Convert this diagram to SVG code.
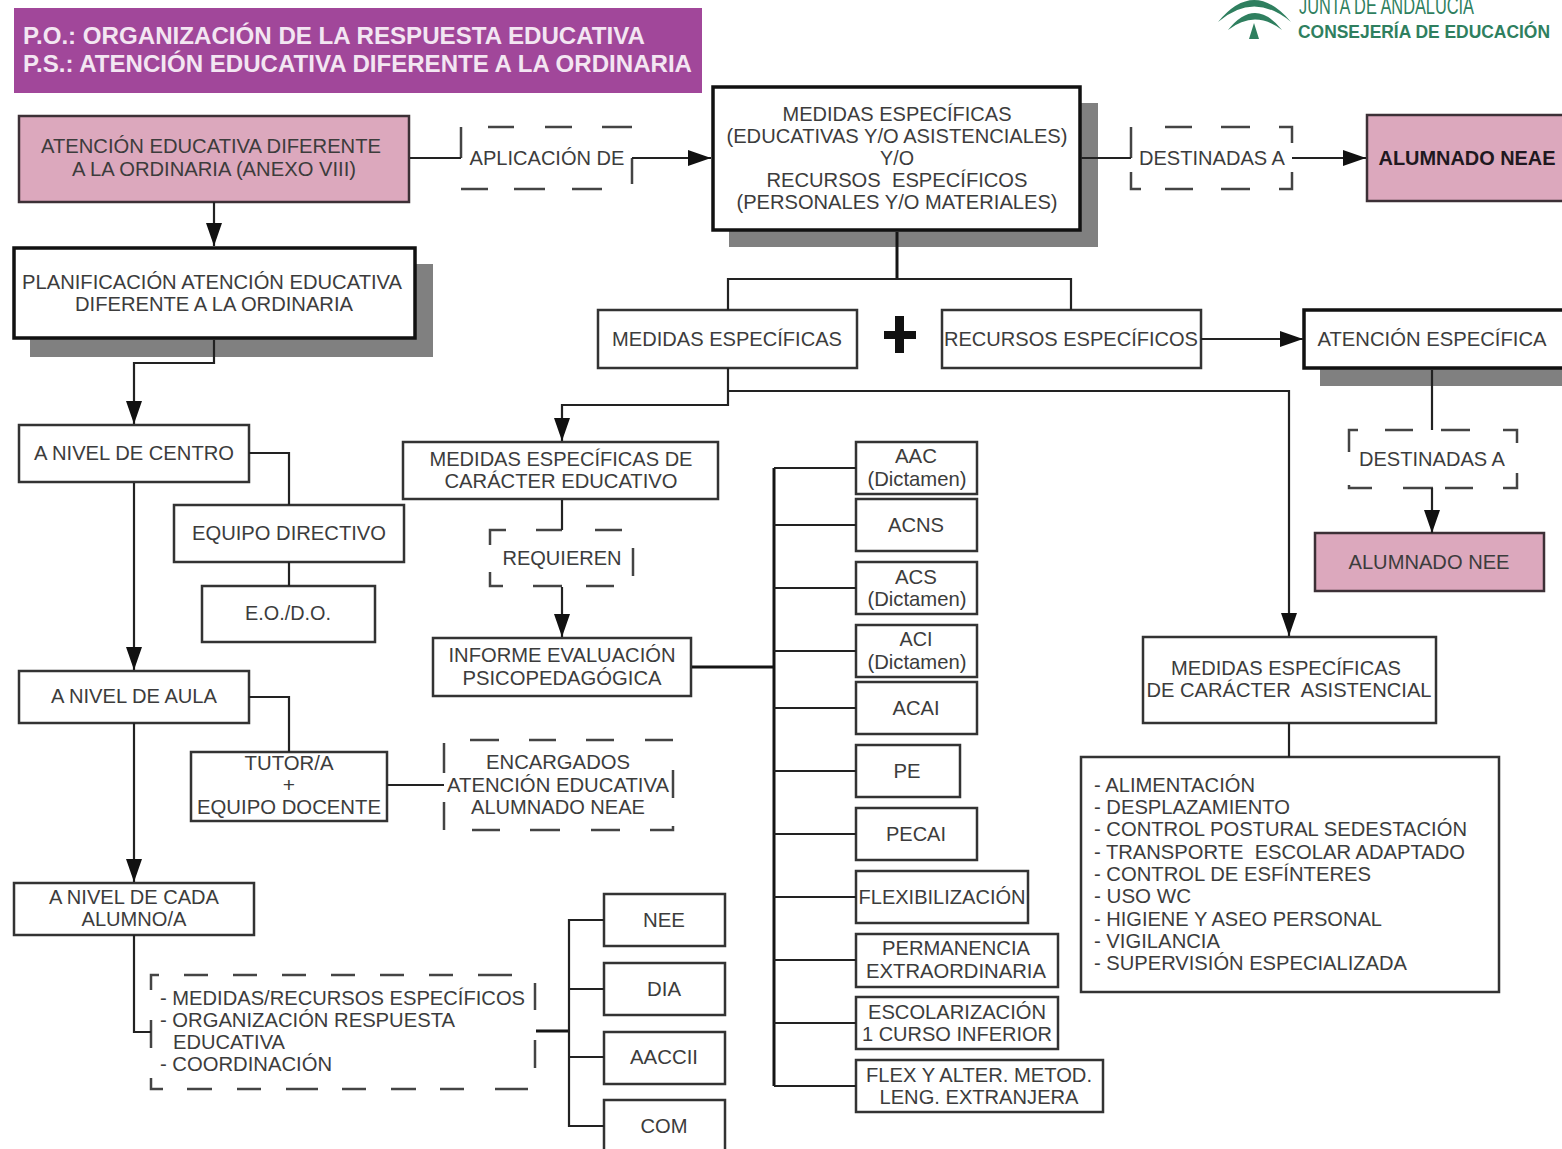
<svg xmlns="http://www.w3.org/2000/svg" width="1562" height="1149" viewBox="0 0 1562 1149">
<style>
text{font-family:"Liberation Sans",Arial,sans-serif;font-size:21px;fill:#3c3c3c;text-anchor:middle}
.l{text-anchor:start}
.box{fill:#fff;stroke:#333;stroke-width:2.5}
.thick{fill:#fff;stroke:#111;stroke-width:3.5}
.pink{fill:#dca8bd;stroke:#3c3036;stroke-width:2.5}
.sh{fill:#808080}
.c{fill:none;stroke:#222;stroke-width:2.2}
.s{fill:none;stroke:#151515;stroke-width:3}
.d{fill:none;stroke:#444;stroke-width:2.5}
.hd{fill:#f3e6f2;font-weight:bold;font-size:24px}
.g{fill:#2f7f5f}
</style>
<defs><marker id="a" markerUnits="userSpaceOnUse" markerWidth="26" markerHeight="18" refX="23" refY="8" orient="auto"><path d="M0 0L23 8L0 16Z" fill="#111"/></marker></defs>
<rect width="1562" height="1149" fill="#fff"/>
<g id="titulo"><rect x="14" y="8" width="688" height="85" fill="#a1479a"/>
<text class="l hd" x="23" y="44" textLength="622" lengthAdjust="spacingAndGlyphs">P.O.: ORGANIZACIÓN DE LA RESPUESTA EDUCATIVA</text>
<text class="l hd" x="23" y="72" textLength="669" lengthAdjust="spacingAndGlyphs">P.S.: ATENCIÓN EDUCATIVA DIFERENTE A LA ORDINARIA</text></g>
<g id="logo"><path class="g" d="M1218 22Q1254 -22 1291 22Q1254 -9 1218 22Z"/><path class="g" d="M1228 30Q1255 -4 1282 30Q1255 9 1228 30Z"/><path class="g" d="M1254 23L1259 39H1249Z"/>
<text class="l g" x="1299" y="14" textLength="175" lengthAdjust="spacingAndGlyphs" style="fill:#2f7f5f;font-size:23px">JUNTA DE ANDALUCÍA</text>
<text class="l g" x="1298" y="38" textLength="252" lengthAdjust="spacingAndGlyphs" style="fill:#2f7f5f;font-size:19px;font-weight:bold">CONSEJERÍA DE EDUCACIÓN</text></g>

<g id="n1"><rect class="pink" x="19" y="116" width="390" height="86"/><text x="211" y="153" textLength="340" lengthAdjust="spacingAndGlyphs">ATENCIÓN EDUCATIVA DIFERENTE</text><text x="214" y="176" textLength="284" lengthAdjust="spacingAndGlyphs">A LA ORDINARIA (ANEXO VIII)</text></g>
<g id="n2"><path class="d" d="M461 127V158M488 127H514M545 127H572M602 127H632M461 189H488M514 189H545M572 189H602M632 158V184"/><text x="547" y="165" textLength="155" lengthAdjust="spacingAndGlyphs">APLICACIÓN DE</text></g>
<g id="n3"><rect class="sh" x="729" y="103" width="369" height="144"/><rect class="thick" x="713" y="87" width="367" height="143"/>
<text x="897" y="121" textLength="229" lengthAdjust="spacingAndGlyphs">MEDIDAS ESPECÍFICAS</text><text x="897" y="143" textLength="341" lengthAdjust="spacingAndGlyphs">(EDUCATIVAS Y/O ASISTENCIALES)</text><text x="897" y="165" textLength="34" lengthAdjust="spacingAndGlyphs">Y/O</text><text x="897" y="187" textLength="261" lengthAdjust="spacingAndGlyphs" xml:space="preserve">RECURSOS  ESPECÍFICOS</text><text x="897" y="209" textLength="321" lengthAdjust="spacingAndGlyphs">(PERSONALES Y/O MATERIALES)</text></g>
<g id="n4"><path class="d" d="M1131 127V158M1165 127H1192M1221 127H1250M1279 127H1292V143M1131 172V189H1141M1165 189H1193M1221 189H1250M1279 189H1292V172"/><text x="1212" y="165" textLength="146" lengthAdjust="spacingAndGlyphs">DESTINADAS A</text></g>
<g id="n5"><rect class="pink" x="1367" y="115" width="200" height="86"/><text x="1467" y="165" textLength="177" lengthAdjust="spacingAndGlyphs" style="font-weight:bold;fill:#201820;font-size:20px">ALUMNADO NEAE</text></g>
<g id="n6"><rect class="sh" x="30" y="264" width="403" height="93"/><rect class="thick" x="14" y="248" width="401" height="90"/><text x="212" y="289" textLength="380" lengthAdjust="spacingAndGlyphs">PLANIFICACIÓN ATENCIÓN EDUCATIVA</text><text x="214" y="311" textLength="278" lengthAdjust="spacingAndGlyphs">DIFERENTE A LA ORDINARIA</text></g>
<g id="n7"><rect class="box" x="598" y="310" width="259" height="58"/><text x="727" y="346" textLength="230" lengthAdjust="spacingAndGlyphs">MEDIDAS ESPECÍFICAS</text></g>
<g id="plus"><path d="M895 316H904V331H916V339H904V353H895V339H884V331H895Z" fill="#111"/></g>
<g id="n8"><rect class="box" x="942" y="310" width="259" height="58"/><text x="1071" y="346" textLength="254" lengthAdjust="spacingAndGlyphs">RECURSOS ESPECÍFICOS</text></g>
<g id="n9"><rect class="sh" x="1320" y="326" width="242" height="60"/><rect class="thick" x="1304" y="310" width="262" height="58"/><text x="1432" y="346" textLength="229" lengthAdjust="spacingAndGlyphs">ATENCIÓN ESPECÍFICA</text></g>
<g id="n10"><rect class="box" x="19" y="425" width="230" height="57"/><text x="134" y="460" textLength="200" lengthAdjust="spacingAndGlyphs">A NIVEL DE CENTRO</text></g>
<g id="n11"><rect class="box" x="174" y="505" width="230" height="57"/><text x="289" y="540" textLength="194" lengthAdjust="spacingAndGlyphs">EQUIPO DIRECTIVO</text></g>
<g id="n12"><rect class="box" x="202" y="586" width="173" height="56"/><text x="288" y="620" textLength="86" lengthAdjust="spacingAndGlyphs">E.O./D.O.</text></g>
<g id="n13"><rect class="box" x="19" y="671" width="230" height="52"/><text x="134" y="703" textLength="166" lengthAdjust="spacingAndGlyphs">A NIVEL DE AULA</text></g>
<g id="n14"><rect class="box" x="191" y="752" width="196" height="69"/><text x="289" y="770" textLength="89" lengthAdjust="spacingAndGlyphs">TUTOR/A</text><text x="289" y="792">+</text><text x="289" y="814" textLength="184" lengthAdjust="spacingAndGlyphs">EQUIPO DOCENTE</text></g>
<g id="n15"><path class="d" d="M444 743V773M444 802V830M470 740H499M529 740H556M586 740H614M645 740H673M673 770V798M472 830H500M530 830H560M591 830H620M650 830H673V826"/><text x="558" y="769" textLength="144" lengthAdjust="spacingAndGlyphs">ENCARGADOS</text><text x="558" y="792" textLength="222" lengthAdjust="spacingAndGlyphs">ATENCIÓN EDUCATIVA</text><text x="558" y="814" textLength="174" lengthAdjust="spacingAndGlyphs">ALUMNADO NEAE</text></g>
<g id="n16"><rect class="box" x="14" y="883" width="240" height="52"/><text x="134" y="904" textLength="170" lengthAdjust="spacingAndGlyphs">A NIVEL DE CADA</text><text x="134" y="926" textLength="105" lengthAdjust="spacingAndGlyphs">ALUMNO/A</text></g>
<g id="n17"><path class="d" d="M151 990V975H159M184 975H208M233 975H257M282 975H306M331 975H355M380 975H404M429 975H453M478 975H512M535 983V1010M151 1020V1048M535 1040V1068M151 1078V1089H163M187 1089H212M237 1089H261M286 1089H318M342 1089H366M391 1089H416M440 1089H464M495 1089H528"/>
<text class="l" x="160" y="1005" textLength="365" lengthAdjust="spacingAndGlyphs">- MEDIDAS/RECURSOS ESPECÍFICOS</text><text class="l" x="160" y="1027" textLength="295" lengthAdjust="spacingAndGlyphs">- ORGANIZACIÓN RESPUESTA</text><text class="l" x="173" y="1049" textLength="112" lengthAdjust="spacingAndGlyphs">EDUCATIVA</text><text class="l" x="160" y="1071" textLength="172" lengthAdjust="spacingAndGlyphs">- COORDINACIÓN</text></g>
<g id="n18"><rect class="box" x="604" y="894" width="121" height="52"/><text x="664" y="927" textLength="42" lengthAdjust="spacingAndGlyphs">NEE</text></g>
<g id="n19"><rect class="box" x="604" y="963" width="121" height="52"/><text x="664" y="996" textLength="34" lengthAdjust="spacingAndGlyphs">DIA</text></g>
<g id="n20"><rect class="box" x="604" y="1032" width="121" height="52"/><text x="664" y="1064" textLength="68" lengthAdjust="spacingAndGlyphs">AACCII</text></g>
<g id="n21"><rect class="box" x="604" y="1100" width="121" height="52"/><text x="664" y="1133" textLength="47" lengthAdjust="spacingAndGlyphs">COM</text></g>
<g id="n22"><rect class="box" x="403" y="442" width="315" height="57"/><text x="561" y="466" textLength="263" lengthAdjust="spacingAndGlyphs">MEDIDAS ESPECÍFICAS DE</text><text x="561" y="488" textLength="233" lengthAdjust="spacingAndGlyphs">CARÁCTER EDUCATIVO</text></g>
<g id="n23"><path class="d" d="M490 545V530H506M536 530H562M595 530H622M633 548V576M490 572V586H503M533 586H562M586 586H614"/><text x="562" y="565" textLength="119" lengthAdjust="spacingAndGlyphs">REQUIEREN</text></g>
<g id="n24"><rect class="box" x="433" y="638" width="258" height="58"/><text x="562" y="662" textLength="227" lengthAdjust="spacingAndGlyphs">INFORME EVALUACIÓN</text><text x="562" y="685" textLength="199" lengthAdjust="spacingAndGlyphs">PSICOPEDAGÓGICA</text></g>
<g id="n25"><rect class="box" x="856" y="442" width="121" height="52"/><text x="916" y="463" textLength="42" lengthAdjust="spacingAndGlyphs">AAC</text><text x="917" y="486" textLength="99" lengthAdjust="spacingAndGlyphs">(Dictamen)</text></g>
<g id="n26"><rect class="box" x="856" y="499" width="121" height="52"/><text x="916" y="532" textLength="56" lengthAdjust="spacingAndGlyphs">ACNS</text></g>
<g id="n27"><rect class="box" x="856" y="562" width="121" height="52"/><text x="916" y="584" textLength="42" lengthAdjust="spacingAndGlyphs">ACS</text><text x="917" y="606" textLength="99" lengthAdjust="spacingAndGlyphs">(Dictamen)</text></g>
<g id="n28"><rect class="box" x="856" y="625" width="121" height="52"/><text x="916" y="646" textLength="33" lengthAdjust="spacingAndGlyphs">ACI</text><text x="917" y="669" textLength="99" lengthAdjust="spacingAndGlyphs">(Dictamen)</text></g>
<g id="n29"><rect class="box" x="856" y="682" width="121" height="52"/><text x="916" y="715" textLength="47" lengthAdjust="spacingAndGlyphs">ACAI</text></g>
<g id="n30"><rect class="box" x="856" y="745" width="104" height="52"/><text x="907" y="778" textLength="27" lengthAdjust="spacingAndGlyphs">PE</text></g>
<g id="n31"><rect class="box" x="856" y="808" width="121" height="52"/><text x="916" y="841" textLength="60" lengthAdjust="spacingAndGlyphs">PECAI</text></g>
<g id="n32"><rect class="box" x="856" y="871" width="172" height="52"/><text x="942" y="904" textLength="167" lengthAdjust="spacingAndGlyphs">FLEXIBILIZACIÓN</text></g>
<g id="n33"><rect class="box" x="856" y="934" width="202" height="53"/><text x="956" y="955" textLength="148" lengthAdjust="spacingAndGlyphs">PERMANENCIA</text><text x="956" y="978" textLength="180" lengthAdjust="spacingAndGlyphs">EXTRAORDINARIA</text></g>
<g id="n34"><rect class="box" x="856" y="997" width="202" height="52"/><text x="957" y="1019" textLength="178" lengthAdjust="spacingAndGlyphs">ESCOLARIZACIÓN</text><text x="957" y="1041" textLength="190" lengthAdjust="spacingAndGlyphs">1 CURSO INFERIOR</text></g>
<g id="n35"><rect class="box" x="856" y="1060" width="247" height="52"/><text x="979" y="1082" textLength="226" lengthAdjust="spacingAndGlyphs">FLEX Y ALTER. METOD.</text><text x="979" y="1104" textLength="199" lengthAdjust="spacingAndGlyphs">LENG. EXTRANJERA</text></g>
<g id="n36"><path class="d" d="M1349 452V430H1358M1385 430H1413M1441 430H1470M1503 430H1517V443M1349 485V488H1372M1403 488H1433M1445 488H1473M1503 488H1517V473"/><text x="1432" y="466" textLength="146" lengthAdjust="spacingAndGlyphs">DESTINADAS A</text></g>
<g id="n37"><rect class="pink" x="1315" y="533" width="229" height="58"/><text x="1429" y="569" textLength="161" lengthAdjust="spacingAndGlyphs">ALUMNADO NEE</text></g>
<g id="n38"><rect class="box" x="1143" y="637" width="293" height="86"/><text x="1286" y="675" textLength="230" lengthAdjust="spacingAndGlyphs">MEDIDAS ESPECÍFICAS</text><text x="1289" y="697" textLength="285" lengthAdjust="spacingAndGlyphs" xml:space="preserve">DE CARÁCTER  ASISTENCIAL</text></g>
<g id="n39"><rect class="box" x="1081" y="757" width="418" height="235"/>
<text class="l" x="1094" y="792" textLength="161" lengthAdjust="spacingAndGlyphs">- ALIMENTACIÓN</text>
<text class="l" x="1094" y="814" textLength="196" lengthAdjust="spacingAndGlyphs">- DESPLAZAMIENTO</text>
<text class="l" x="1094" y="836" textLength="373" lengthAdjust="spacingAndGlyphs">- CONTROL POSTURAL SEDESTACIÓN</text>
<text class="l" x="1094" y="859" textLength="371" lengthAdjust="spacingAndGlyphs" xml:space="preserve">- TRANSPORTE  ESCOLAR ADAPTADO</text>
<text class="l" x="1094" y="881" textLength="277" lengthAdjust="spacingAndGlyphs">- CONTROL DE ESFÍNTERES</text>
<text class="l" x="1094" y="903" textLength="97" lengthAdjust="spacingAndGlyphs">- USO WC</text>
<text class="l" x="1094" y="926" textLength="288" lengthAdjust="spacingAndGlyphs">- HIGIENE Y ASEO PERSONAL</text>
<text class="l" x="1094" y="948" textLength="126" lengthAdjust="spacingAndGlyphs">- VIGILANCIA</text>
<text class="l" x="1094" y="970" textLength="313" lengthAdjust="spacingAndGlyphs">- SUPERVISIÓN ESPECIALIZADA</text></g>

<g id="connectors">
<path class="c" d="M410 158H461"/><path class="c" marker-end="url(#a)" d="M632 158H711"/>
<path class="c" marker-end="url(#a)" d="M214 202V246"/>
<path class="c" d="M1081 158H1131"/><path class="c" marker-end="url(#a)" d="M1292 158H1366"/>
<path class="s" d="M897 232V279"/><path class="c" d="M728 310V279H1071V310"/>
<path class="c" marker-end="url(#a)" d="M1201 339H1303"/>
<path class="c" marker-end="url(#a)" d="M214 340V363H134V424"/>
<path class="c" marker-end="url(#a)" d="M134 483V670"/>
<path class="c" marker-end="url(#a)" d="M134 723V882"/>
<path class="c" d="M249 453H289V505M289 562V586"/>
<path class="c" d="M249 697H289V752"/>
<path class="c" d="M387 785H444"/>
<path class="c" d="M134 935V1032H151"/>
<path class="c" marker-end="url(#a)" d="M728 368V405H562V441"/>
<path class="c" marker-end="url(#a)" d="M728 391H1289V636"/>
<path class="c" d="M562 500V530"/><path class="c" marker-end="url(#a)" d="M562 587V637"/>
<path class="c" d="M1432 370V430"/><path class="c" marker-end="url(#a)" d="M1432 488V533"/>
<path class="c" d="M1289 723V757"/>
<path class="s" d="M692 667H774"/>
<path class="s" d="M774 468V1086"/>
<path class="c" d="M856 468H774M774 1086H856M774 525H856M774 588H856M774 651H856M774 708H856M774 771H856M774 834H856M774 897H856M774 960H856M774 1023H856"/>
<path class="s" d="M536 1031H569"/>
<path class="c" d="M604 920H569V1126H604M569 989H604M569 1057H604"/>
</g>
</svg>
